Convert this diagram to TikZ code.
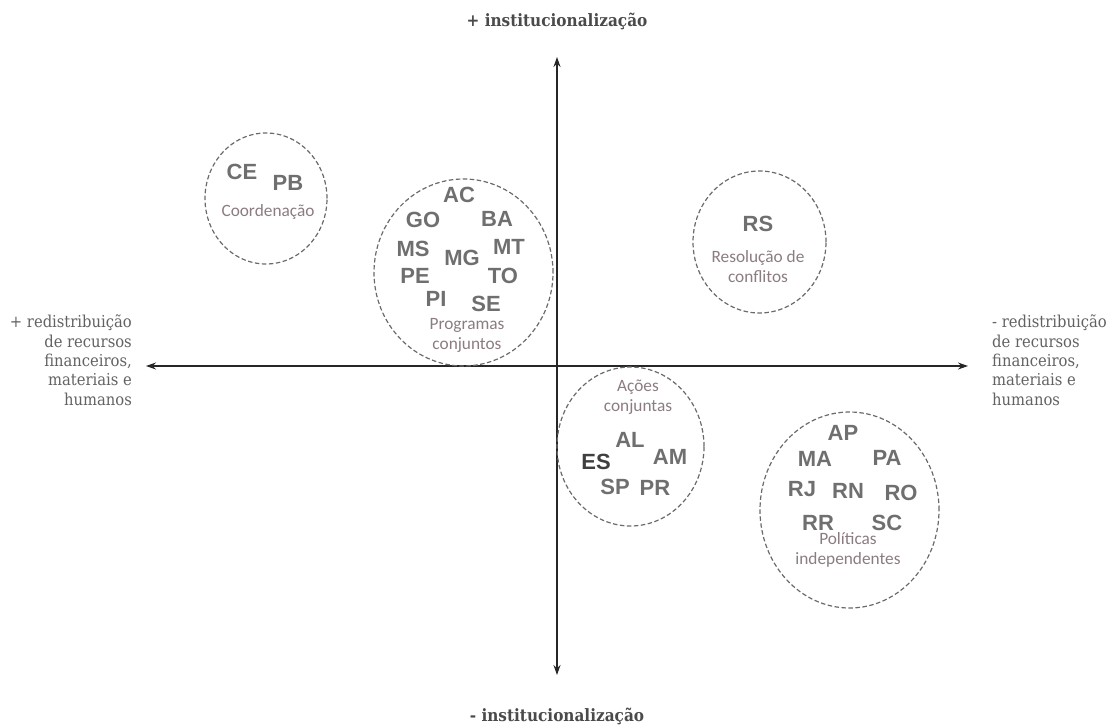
\documentclass[tikz,border=0pt]{standalone}
\usepackage{fontspec}
\setmainfont{Liberation Sans}
\newfontfamily\statefont{Liberation Sans}
\newfontfamily\labfont{Carlito}
\newfontfamily\axfont{DejaVu Serif Condensed}
\usetikzlibrary{shapes.geometric,arrows.meta}
\definecolor{stategray}{HTML}{6F6F6F}
\definecolor{esgray}{HTML}{3F3F3F}
\definecolor{labmauve}{HTML}{8B7B82}
\definecolor{circgray}{HTML}{6A6A6A}
\definecolor{axtext}{HTML}{4A4A4A}
\definecolor{sidetext}{HTML}{626262}
\tikzset{
  st/.style={font=\statefont\bfseries\fontsize{22}{22}\selectfont, text=stategray, inner sep=0pt, anchor=center},
  lab/.style={font=\labfont\fontsize{17.3}{20}\selectfont, text=labmauve, inner sep=0pt, align=center},
  grp/.style={ellipse, draw=circgray, line width=1.2pt, dash pattern=on 4.5pt off 2.5pt, inner sep=0pt},
  axis/.style={line width=1.2pt, draw=black!85, -{Stealth[length=10pt,width=7pt]}},
  axlab/.style={font=\axfont\bfseries\fontsize{17}{19}\selectfont, text=axtext, inner sep=0pt},
  sidelab/.style={font=\axfont\fontsize{16.4}{19.3}\selectfont, text=sidetext, inner sep=0pt}
}
\begin{document}
\begin{tikzpicture}[x=1pt,y=-1pt]
\useasboundingbox (0,0) rectangle (1111,725);
% axes
\coordinate (c) at (557,366);
\coordinate (top) at (557,57);
\coordinate (bot) at (557,675);
\coordinate (lft) at (146,366);
\coordinate (rgt) at (968,366);
\draw[axis] (c) -- (top);
\draw[axis] (c) -- (bot);
\draw[axis] (c) -- (lft);
\draw[axis] (c) -- (rgt);
\node[axlab] (tlab) at (557,21) {+ institucionalização};
\node[axlab] (blab) at (557,716) {- institucionalização};
\node[sidelab, align=right, anchor=north east] (llab) at (132,315) {+ redistribuição\\de recursos\\financeiros,\\materiais e\\humanos};
\node[sidelab, align=left, anchor=north west] (rlab) at (992,315) {- redistribuição\\de recursos\\financeiros,\\materiais e\\humanos};
% groups
\node[grp, minimum width=122pt, minimum height=131pt] (coord) at (266,198.5) {};
\node[grp, minimum width=179pt, minimum height=187pt] (prog) at (463.5,272.5) {};
\node[grp, minimum width=133pt, minimum height=142pt] (resol) at (759.5,242) {};
\node[grp, minimum width=147pt, minimum height=159pt] (acoes) at (630.5,446.5) {};
\node[grp, minimum width=179pt, minimum height=196pt] (polit) at (849.5,510) {};
% Coordenacao
\node[st] (CE) at (242,172) {CE};
\node[st] (PB) at (288,183) {PB};
\node[lab] (lcoord) at (268,212) {Coordenação};
% Programas conjuntos
\node[st] (AC) at (459,195) {AC};
\node[st] (GO) at (423,220) {GO};
\node[st] (BA) at (497,219) {BA};
\node[st] (MS) at (413,249) {MS};
\node[st] (MG) at (462,258) {MG};
\node[st] (MT) at (509,247) {MT};
\node[st] (PE) at (415,276) {PE};
\node[st] (TO) at (503,276) {TO};
\node[st] (PI) at (436,299) {PI};
\node[st] (SE) at (486,304) {SE};
\node[lab] (lprog) at (467,335) {Programas\\conjuntos};
% Resolucao
\node[st] (RS) at (758,224) {RS};
\node[lab] (lresol) at (758,267) {Resolução de\\conflitos};
% Acoes conjuntas
\node[lab] (lacoes) at (638,397) {Ações\\conjuntas};
\node[st] (AL) at (630,440) {AL};
\node[st, text=esgray] (ES) at (596,462) {ES};
\node[st] (AM) at (670,457) {AM};
\node[st] (SP) at (615,487) {SP};
\node[st] (PR) at (655,488) {PR};
% Politicas independentes
\node[st] (AP) at (843,433) {AP};
\node[st] (MA) at (815,459) {MA};
\node[st] (PA) at (887,458) {PA};
\node[st] (RJ) at (802,489) {RJ};
\node[st] (RN) at (848,491) {RN};
\node[st] (RO) at (901,493) {RO};
\node[st] (RR) at (818,523) {RR};
\node[st] (SC) at (887,523) {SC};
\node[lab] (lpolit) at (848,550) {Políticas\\independentes};
\end{tikzpicture}
\end{document}
